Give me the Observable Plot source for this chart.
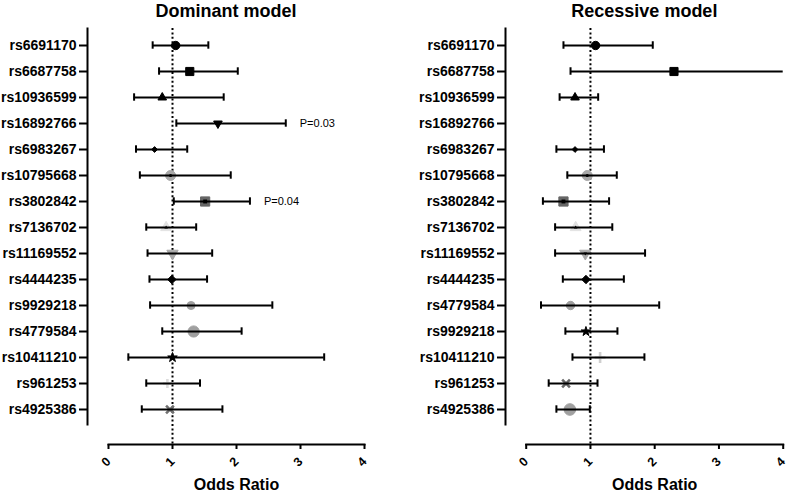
<!DOCTYPE html>
<html><head><meta charset="utf-8">
<script src="https://cdn.jsdelivr.net/npm/d3@7"></script>
<script src="https://cdn.jsdelivr.net/npm/@observablehq/plot@0.6"></script>
<style>
body{margin:0;background:#fff}
#wrap{display:flex;width:787px;height:491px;overflow:hidden}
#wrap svg{flex:none;max-width:none}
</style>
</head><body><div id="wrap"></div>
<script>
// ---- data ----
const snpsDominant = ["rs6691170","rs6687758","rs10936599","rs16892766","rs6983267","rs10795668","rs3802842","rs7136702","rs11169552","rs4444235","rs9929218","rs4779584","rs10411210","rs961253","rs4925386"];
const domOR   = [1.05, 1.27, 0.84, 1.71, 0.72, 0.97, 1.51, 0.90, 1.00, 0.99, 1.29, 1.33, 1.00, 0.92, 0.96];
const domLow  = [0.69, 0.79, 0.40, 1.06, 0.43, 0.49, 1.02, 0.59, 0.61, 0.64, 0.65, 0.84, 0.31, 0.59, 0.52];
const domHigh = [1.56, 2.02, 1.80, 2.77, 1.23, 1.91, 2.21, 1.37, 1.62, 1.54, 2.56, 2.08, 3.37, 1.43, 1.78];
const domP    = [null, null, null, 0.03, null, null, 0.04, null, null, null, null, null, null, null, null];

const snpsRecessive = ["rs6691170","rs6687758","rs10936599","rs16892766","rs6983267","rs10795668","rs3802842","rs7136702","rs11169552","rs4444235","rs4779584","rs9929218","rs10411210","rs961253","rs4925386"];
const recOR   = [1.08, 2.30, 0.76, null, 0.76, 0.95, 0.58, 0.77, 0.92, 0.93, 0.69, 0.93, 1.15, 0.62, 0.68];
const recLow  = [0.58, 0.69, 0.52, null, 0.47, 0.64, 0.26, 0.45, 0.45, 0.57, 0.23, 0.61, 0.72, 0.35, 0.47];
const recHigh = [1.97, 4.60, 1.12, null, 1.21, 1.41, 1.29, 1.34, 1.85, 1.52, 2.07, 1.42, 1.84, 1.11, 0.99];
const recP    = [null, null, null, null, null, null, null, null, null, null, null, null, null, null, null];

const xDomain = [0, 4];
const xTicks = [0, 1, 2, 3, 4];
const titles = ["Dominant model", "Recessive model"];
const xLabel = "Odds Ratio";

// ---- marker styles (per row) ----
const triangleDown = {
  draw(context, size) {
    const sqrt3 = Math.sqrt(3);
    const y = -Math.sqrt(size / (sqrt3 * 3));
    context.moveTo(0, -y * 2);
    context.lineTo(-sqrt3 * y, y);
    context.lineTo(sqrt3 * y, y);
    context.closePath();
  }
};
const M = (sym, color, r, opts = {}) => ({sym, color, r, ...opts});
const markersDominant = [
  M(d3.symbolCircle, "#000", 4.2),
  M(d3.symbolSquare, "#000", 4.6),
  M(d3.symbolTriangle, "#000", 3.2),
  M(triangleDown, "#000", 3.2),
  M(d3.symbolDiamond2, "#000", 2.6),
  M(d3.symbolCircle, "#a9a9a9", 5, {inner: d3.symbolCircle, ir: 1.6}),
  M(d3.symbolSquare, "#666", 5.2, {inner: d3.symbolSquare, ir: 2.2}),
  M(d3.symbolTriangle, "#e2e2e2", 4, {inner: d3.symbolTriangle, ir: 1.3}),
  M(triangleDown, "#a9a9a9", 4.2),
  M(d3.symbolDiamond2, "#000", 3.8),
  M(d3.symbolCircle, "#a0a0a0", 4),
  M(d3.symbolCircle, "#a0a0a0", 5.6),
  M(d3.symbolStar, "#000", 3),
  M(d3.symbolPlus, "#dcdcdc", 3, {line: true}),
  M(d3.symbolTimes, "#707070", 3.6, {line: true})
];
const markersRecessive = [
  M(d3.symbolCircle, "#000", 4.2),
  M(d3.symbolSquare, "#000", 4.6),
  M(d3.symbolTriangle, "#000", 3.2),
  null,
  M(d3.symbolDiamond2, "#000", 2.6),
  M(d3.symbolCircle, "#a9a9a9", 5, {inner: d3.symbolCircle, ir: 1.6}),
  M(d3.symbolSquare, "#666", 5.2, {inner: d3.symbolSquare, ir: 2.2}),
  M(d3.symbolTriangle, "#e2e2e2", 4, {inner: d3.symbolTriangle, ir: 1.3}),
  M(triangleDown, "#a9a9a9", 4.2, {inner: triangleDown, ir: 1.3}),
  M(d3.symbolDiamond2, "#000", 3.8),
  M(d3.symbolCircle, "#a0a0a0", 4.2),
  M(d3.symbolStar, "#000", 3),
  M(d3.symbolPlus, "#cfcfcf", 3.6, {line: true}),
  M(d3.symbolTimes, "#666", 3.6, {line: true}),
  M(d3.symbolCircle, "#a0a0a0", 5.8)
];

function panel({snps, or, low, high, p, markers, title, width, marginLeft, insetLeft, marginRight}) {
  const rows = snps.map((snp, i) => ({snp, or: or[i], low: low[i], high: high[i], p: p[i], m: markers[i]}))
                   .filter(d => d.or != null);
  const xMid = (xDomain[0] + xDomain[1]) / 2;
  const markerMarks = rows.map(d => d.m.line
    ? Plot.dot([d], {x: "or", y: "snp", symbol: d.m.sym, r: d.m.r, fill: "none", stroke: d.m.color, strokeWidth: 2.6})
    : Plot.dot([d], {x: "or", y: "snp", symbol: d.m.sym, r: d.m.r, fill: d.m.color, stroke: d.m.color, strokeWidth: 1, strokeLinejoin: "round"}));
  const innerMarks = rows.filter(d => d.m.inner).map(d =>
    Plot.dot([d], {x: "or", y: "snp", symbol: d.m.inner, r: d.m.ir, fill: "#000", stroke: "none"}));
  return Plot.plot({
    width, height: 491,
    marginTop: 28, marginBottom: 47, marginLeft, marginRight,
    insetLeft, insetTop: 1, insetBottom: 20,
    style: {fontFamily: "'Liberation Sans', Arial, sans-serif", background: "white", overflow: "visible", color: "#000"},
    x: {domain: xDomain},
    y: {domain: snps, type: "band", padding: 0},
    marks: [
      Plot.frame({anchor: "left", insetBottom: 20, strokeWidth: 2}),
      Plot.frame({anchor: "bottom", insetLeft, strokeWidth: 2}),
      Plot.axisY({tickSize: 8, tickPadding: 3, fontSize: 14, fontWeight: "bold", strokeWidth: 2, label: null}),
      Plot.axisX({ticks: xTicks, tickSize: 5, tickPadding: 10, tickRotate: -45, fontSize: 12.5, fontWeight: "bold", strokeWidth: 2, label: null, tickFormat: d => String(d)}),
      Plot.ruleX([1], {strokeDasharray: "2,2.4", strokeWidth: 2}),
      ...markerMarks,
      Plot.ruleY(rows, {y: "snp", x1: "low", x2: "high", stroke: "#000", strokeWidth: 2, clip: true}),
      Plot.tickX(rows, {x: "low", y: "snp", insetTop: 9.3, insetBottom: 9.3, strokeWidth: 2, clip: true}),
      Plot.tickX(rows, {x: "high", y: "snp", insetTop: 9.3, insetBottom: 9.3, strokeWidth: 2, clip: true}),
      ...innerMarks,
      Plot.text(rows.filter(d => d.p != null), {x: "high", y: "snp", text: d => `P=${d.p.toFixed(2)}`, dx: 14, textAnchor: "start", fontSize: 11}),
      Plot.text([title], {text: d => d, frameAnchor: "top", lineAnchor: "bottom", dy: -11.5, fontSize: 18, fontWeight: "bold"}),
      Plot.text([xLabel], {text: d => d, x: () => xMid, frameAnchor: "bottom", lineAnchor: "bottom", dy: 45, fontSize: 16, fontWeight: "bold"})
    ]
  });
}

const wrap = document.getElementById("wrap");
wrap.append(panel({snps: snpsDominant, or: domOR, low: domLow, high: domHigh, p: domP, markers: markersDominant,
  title: titles[0], width: 390, marginLeft: 87, insetLeft: 21, marginRight: 26}));
wrap.append(panel({snps: snpsRecessive, or: recOR, low: recLow, high: recHigh, p: recP, markers: markersRecessive,
  title: titles[1], width: 397, marginLeft: 115, insetLeft: 20.7, marginRight: 4.3}));
</script>
</body></html>
